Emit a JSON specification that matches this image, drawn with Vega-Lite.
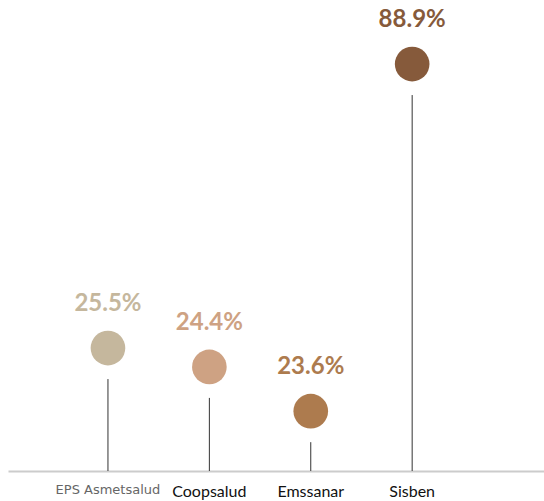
{
  "$schema": "https://vega.github.io/schema/vega-lite/v6.json",
  "width": 536,
  "height": 471,
  "autosize": "none",
  "padding": {"left": 8, "top": 0, "right": 0, "bottom": 30},
  "background": "white",
  "config": {"view": {"stroke": null}, "font": "Lato"},
  "data": {
    "values": [
      {"entidad": "EPS Asmetsalud", "porcentaje": 25.5, "etiqueta": "25.5%", "altura": 26.1},
      {"entidad": "Coopsalud", "porcentaje": 24.4, "etiqueta": "24.4%", "altura": 22.1},
      {"entidad": "Emssanar", "porcentaje": 23.6, "etiqueta": "23.6%", "altura": 12.7},
      {"entidad": "Sisben", "porcentaje": 88.9, "etiqueta": "88.9%", "altura": 86.4}
    ]
  },
  "encoding": {
    "x": {
      "field": "entidad",
      "type": "nominal",
      "sort": null,
      "scale": {"type": "band", "paddingInner": 0.5, "paddingOuter": 0.893, "align": 0.412},
      "axis": {
        "title": null,
        "ticks": false,
        "grid": false,
        "domainColor": "#cccccc",
        "domainWidth": 2,
        "labelAngle": 0,
        "labelPadding": 12,
        "labelFont": {"condition": {"test": "datum.value == 'EPS Asmetsalud'", "value": "DejaVu Sans"}, "value": "Lato"},
        "labelFontSize": {"condition": {"test": "datum.value == 'EPS Asmetsalud'", "value": 13}, "value": 16},
        "labelColor": {"condition": {"test": "datum.value == 'EPS Asmetsalud'", "value": "#666666"}, "value": "#111111"}
      }
    },
    "y": {
      "field": "altura",
      "type": "quantitative",
      "scale": {"domain": [0, 100]},
      "axis": null
    },
    "color": {
      "field": "entidad",
      "type": "nominal",
      "scale": {
        "domain": ["EPS Asmetsalud", "Coopsalud", "Emssanar", "Sisben"],
        "range": ["#c5b79d", "#cea283", "#ad7b4e", "#865a3b"]
      },
      "legend": null
    }
  },
  "layer": [
    {
      "mark": {"type": "rule", "color": "#333333", "strokeWidth": 1, "yOffset": 31, "clip": true},
      "encoding": {"y2": {"datum": 0}, "color": {"value": "#333333"}}
    },
    {
      "mark": {"type": "circle", "size": 1200, "opacity": 1}
    },
    {
      "mark": {"type": "text", "dy": -44, "fontSize": 24, "fontWeight": "bold", "baseline": "middle", "font": "Lato"},
      "encoding": {"text": {"field": "etiqueta"}}
    }
  ]
}
